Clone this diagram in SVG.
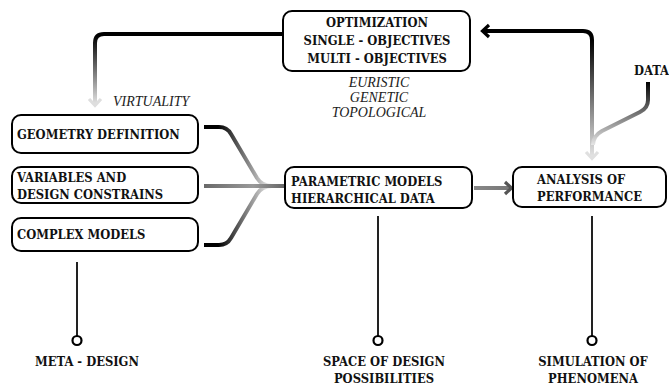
<svg xmlns="http://www.w3.org/2000/svg" width="669" height="386" viewBox="0 0 669 386">
<style>
.box{fill:#fff;stroke:#000;stroke-width:2}
.t{font-family:'DejaVu Serif Condensed','DejaVu Serif','Liberation Serif',serif;font-stretch:condensed;font-weight:bold;font-size:12.8px;fill:#111}
.i{font-family:'Liberation Serif','Times New Roman',serif;font-style:italic;font-size:14px;fill:#222}
.c{fill:none;stroke-width:4;stroke-linecap:butt;stroke-linejoin:round}
.ah{fill:none;stroke-width:3.2;stroke-linejoin:miter;stroke-linecap:butt}
.stem{stroke:#222;stroke-width:2;fill:none}
.dot{fill:#fff;stroke:#000;stroke-width:2.2}
</style>
<defs>
<linearGradient id="gLeft" gradientUnits="userSpaceOnUse" x1="0" y1="36" x2="0" y2="104"><stop offset="0" stop-color="#000"/><stop offset="1" stop-color="#e2e2e2"/></linearGradient>
<linearGradient id="gUp" gradientUnits="userSpaceOnUse" x1="0" y1="40" x2="0" y2="158"><stop offset="0" stop-color="#000"/><stop offset="1" stop-color="#e6e6e6"/></linearGradient>
<linearGradient id="gData" gradientUnits="userSpaceOnUse" x1="0" y1="82" x2="0" y2="145"><stop offset="0" stop-color="#000"/><stop offset="1" stop-color="#e6e6e6"/></linearGradient>
<linearGradient id="gCurve" gradientUnits="userSpaceOnUse" x1="218" y1="0" x2="268" y2="0"><stop offset="0" stop-color="#000"/><stop offset="1" stop-color="#e0e0e0"/></linearGradient>
<linearGradient id="gMid" gradientUnits="userSpaceOnUse" x1="205" y1="0" x2="285" y2="0"><stop offset="0" stop-color="#6a6a6a"/><stop offset="0.6" stop-color="#9a9a9a"/><stop offset="1" stop-color="#666"/></linearGradient>
<linearGradient id="gPA" gradientUnits="userSpaceOnUse" x1="474" y1="0" x2="510" y2="0"><stop offset="0" stop-color="#888"/><stop offset="1" stop-color="#777"/></linearGradient>
</defs>
<g id="connectors">
<path class="c" stroke="url(#gLeft)" d="M283,34 H104 Q95,34 95,43 V104"/>
<path class="ah" stroke="#dedede" d="M89,99 L95,105.5 L101,99"/>
<path class="c" stroke="url(#gUp)" d="M592,158 V40 Q592,31 583,31 H484"/>
<path class="ah" stroke="#000" d="M489,25 L482.5,31 L489,37"/>
<path class="ah" stroke="#e0e0e0" d="M586,152 L592,158.5 L598,152"/>
<path class="c" stroke="url(#gData)" d="M648,82 V100 Q648,108 640,112 L602,131 Q593,136 593,145"/>
<path class="c" stroke="url(#gCurve)" d="M204,127 H219 Q227,127 231,134 L257,178 Q262,186 272,186"/>
<path class="c" stroke="url(#gCurve)" d="M204,245 H219 Q227,245 231,238 L257,194 Q262,186 272,186"/>
<path class="c" stroke="url(#gMid)" d="M204,186 H285"/>
<path class="c" stroke="url(#gPA)" d="M474,188 H509"/>
<path class="ah" stroke="#555" d="M505,182 L511.5,188 L505,194"/>
<path class="stem" d="M77,262 V336"/>
<circle class="dot" cx="77" cy="340.5" r="4.5"/>
<path class="stem" d="M378,216 V336"/>
<circle class="dot" cx="378" cy="340.5" r="4.5"/>
<path class="stem" d="M592,216 V336"/>
<circle class="dot" cx="592" cy="340.5" r="4.5"/>
</g>
<g id="optimization">
<rect class="box" x="283" y="11" width="187" height="60" rx="9"/>
<text class="t" x="377" y="27" text-anchor="middle">OPTIMIZATION</text>
<text class="t" x="377" y="45" text-anchor="middle">SINGLE - OBJECTIVES</text>
<text class="t" x="377" y="63" text-anchor="middle">MULTI - OBJECTIVES</text>
</g>
<g id="methods">
<text class="i" x="379" y="87" text-anchor="middle">EURISTIC</text>
<text class="i" x="379" y="102" text-anchor="middle">GENETIC</text>
<text class="i" x="379" y="117" text-anchor="middle">TOPOLOGICAL</text>
</g>
<g id="virtuality"><text class="i" x="113" y="106">VIRTUALITY</text></g>
<g id="geometry">
<rect class="box" x="12" y="115" width="186" height="38" rx="9"/>
<text class="t" x="17" y="139">GEOMETRY DEFINITION</text>
</g>
<g id="variables">
<rect class="box" x="12" y="167" width="186" height="36" rx="9"/>
<text class="t" x="17" y="182">VARIABLES AND</text>
<text class="t" x="17" y="199">DESIGN CONSTRAINS</text>
</g>
<g id="complex">
<rect class="box" x="12" y="218" width="186" height="33" rx="9"/>
<text class="t" x="17" y="239">COMPLEX MODELS</text>
</g>
<g id="parametric">
<rect class="box" x="285" y="167" width="187" height="41" rx="9"/>
<text class="t" x="291" y="186">PARAMETRIC MODELS</text>
<text class="t" x="291" y="203">HIERARCHICAL DATA</text>
</g>
<g id="analysis">
<rect class="box" x="513" y="167" width="153" height="40" rx="9"/>
<text class="t" x="537" y="184">ANALYSIS OF</text>
<text class="t" x="537" y="201">PERFORMANCE</text>
</g>
<g id="data"><text class="t" x="634" y="75">DATA</text></g>
<g id="meta"><text class="t" x="87" y="366" text-anchor="middle">META - DESIGN</text></g>
<g id="space">
<text class="t" x="384" y="366" text-anchor="middle">SPACE OF DESIGN</text>
<text class="t" x="384" y="383" text-anchor="middle">POSSIBILITIES</text>
</g>
<g id="simulation">
<text class="t" x="593" y="366" text-anchor="middle">SIMULATION OF</text>
<text class="t" x="593" y="383" text-anchor="middle">PHENOMENA</text>
</g>
</svg>
